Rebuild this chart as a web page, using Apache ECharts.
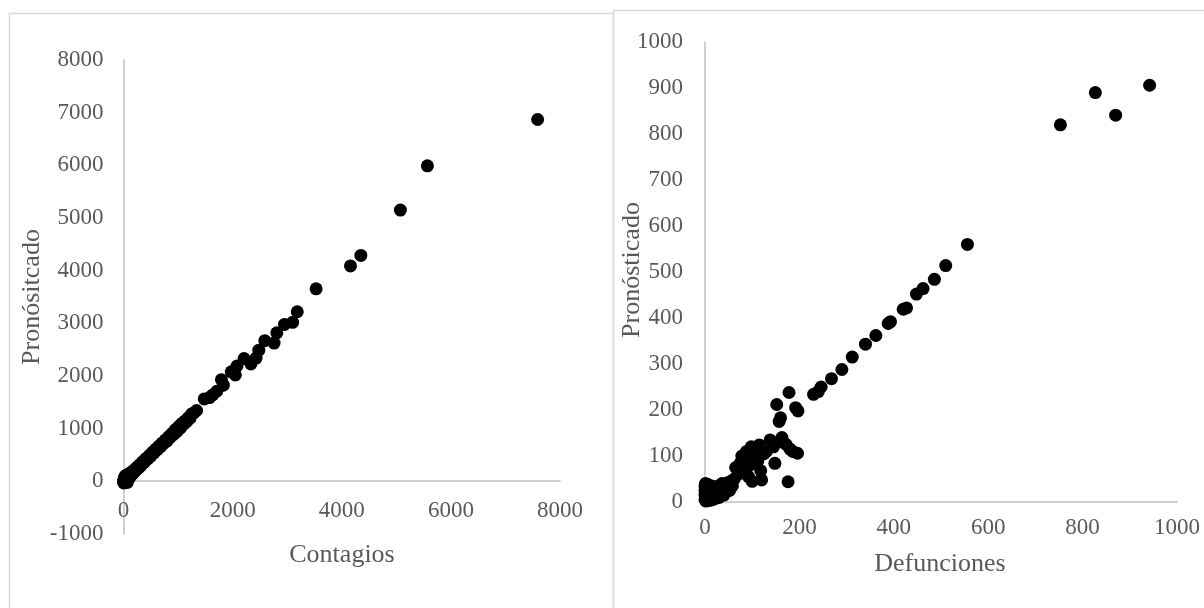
<!DOCTYPE html>
<html>
<head>
<meta charset="utf-8">
<script src="https://cdn.jsdelivr.net/npm/echarts@6/dist/echarts.min.js"></script>
<style>
html,body{margin:0;padding:0;background:#fff;}
#c{width:1204px;height:608px;}
</style>
</head>
<body>
<div id="c"></div>
<script>
// Left panel: Contagios vs Pronósitcado
const contagiosPoints = [
  [0,0],[5,-30],[10,20],[15,60],[20,-10],[25,90],[30,40],[40,110],[50,10],[60,70],[70,-20],[80,130],
  [90,50],[100,100],[110,150],[120,80],[140,170],[160,130],[180,200],[200,180],[220,240],[240,220],
  [260,280],[280,260],[300,320],[320,300],[350,370],[380,360],[410,430],[440,420],[470,490],[500,480],
  [530,550],[560,540],[590,610],[620,600],[650,670],[680,660],[710,730],[740,720],[770,790],[800,770],
  [830,850],[860,840],[890,910],[920,890],[950,980],[980,950],[1010,1040],[1040,1010],[1070,1100],
  [1100,1080],[1130,1150],[1160,1140],[1190,1210],[1220,1200],[1250,1280],[1290,1300],[1340,1345],
  [1480,1565],[1575,1590],[1635,1640],[1710,1710],[1795,1930],[1830,1825],[1975,2080],[2050,2020],
  [2080,2190],[2210,2330],[2335,2230],[2430,2340],[2480,2490],[2590,2670],[2760,2625],[2810,2820],
  [2950,2980],[3100,3020],[3185,3220],[3530,3655],[4160,4090],[4350,4290],[5075,5150],[5570,5990],
  [7590,6870]
];
// Right panel: Defunciones vs Pronósticado
const defuncionesPoints = [
  [0,5],[0,15],[0,25],[0,35],[1,40],[2,2],[3,10],[4,20],[5,30],[6,38],[8,3],[10,12],[12,25],[14,35],
  [16,5],[18,18],[20,30],[22,8],[25,20],[28,35],[30,10],[33,25],[36,40],[40,15],[44,30],[48,42],
  [52,25],[55,45],[58,35],[62,50],[65,75],[70,60],[75,85],[78,100],[82,70],[85,95],[88,110],[92,55],
  [95,80],[98,120],[100,45],[104,100],[108,115],[112,90],[115,124],[118,68],[120,48],[125,105],
  [130,110],[138,135],[145,120],[148,84],[152,212],[157,175],[160,183],[163,140],[165,130],[172,125],
  [176,44],[178,238],[180,115],[186,110],[192,205],[196,106],[197,198],
  [230,234],[240,240],[246,250],[268,268],[290,288],[312,315],[340,343],[362,362],[388,388],[393,392],
  [420,419],[427,422],[448,452],[462,464],[486,484],[510,514],[556,560],[753,820],[827,890],[870,841],
  [942,906]
];
const leftXTitle = 'Contagios';
const leftYTitle = 'Pronósitcado';
const rightXTitle = 'Defunciones';
const rightYTitle = 'Pronósticado';

const FONT = '"Liberation Serif","Times New Roman",serif';
const LBL = '#595959';
const AX = '#bfbfbf';

function axisBase(extra){
  return Object.assign({
    type:'value',
    splitLine:{show:false},
    axisTick:{show:false},
    axisLine:{show:true,onZero:false,lineStyle:{color:AX,width:1.5}},
  }, extra);
}
function lbl(margin){
  return {fontFamily:FONT,fontSize:23,color:LBL,margin:margin,formatter:function(v){return String(v);}};
}
function title(text,x,y,rot){
  return {type:'text',x:x,y:y,rotation:rot||0,z:10,
    style:{text:text,font:'26px '+FONT,fill:LBL,align:'center',verticalAlign:'middle'}};
}

const chart = echarts.init(document.getElementById('c'), null, {renderer:'canvas'});
chart.setOption({
  animation:false,
  backgroundColor:'#fff',
  graphic:[
    {type:'rect',shape:{x:9.5,y:13.5,width:604,height:620},style:{fill:null,stroke:'#d9d9d9',lineWidth:1.5},z:-1},
    {type:'rect',shape:{x:613.5,y:10.5,width:620,height:620},style:{fill:'#fff',stroke:'#d9d9d9',lineWidth:1.5},z:-1},
    title(leftXTitle,342,555),
    title(leftYTitle,32,297,Math.PI/2),
    title(rightXTitle,940,564),
    title(rightYTitle,632,270,Math.PI/2)
  ],
  grid:[
    {left:123.5,top:60,width:436.5,height:474,containLabel:false,outerBoundsMode:'none'},
    {left:705,top:42,width:472,height:460,containLabel:false,outerBoundsMode:'none'}
  ],
  xAxis:[
    axisBase({gridIndex:0,min:0,max:8000,interval:2000,position:'bottom',offset:-53,axisLabel:lbl(18)}),
    axisBase({gridIndex:1,min:0,max:1000,interval:200,position:'bottom',axisLabel:lbl(14)})
  ],
  yAxis:[
    axisBase({gridIndex:0,min:-1000,max:8000,interval:1000,position:'left',axisLabel:lbl(20)}),
    axisBase({gridIndex:1,min:0,max:1000,interval:100,position:'left',axisLabel:lbl(22)})
  ],
  series:[
    {type:'scatter',xAxisIndex:0,yAxisIndex:0,data:contagiosPoints,symbolSize:13,clip:false,
      itemStyle:{color:'#000',opacity:1}},
    {type:'scatter',xAxisIndex:1,yAxisIndex:1,data:defuncionesPoints,symbolSize:13,clip:false,
      itemStyle:{color:'#000',opacity:1}}
  ]
});
</script>
</body>
</html>
